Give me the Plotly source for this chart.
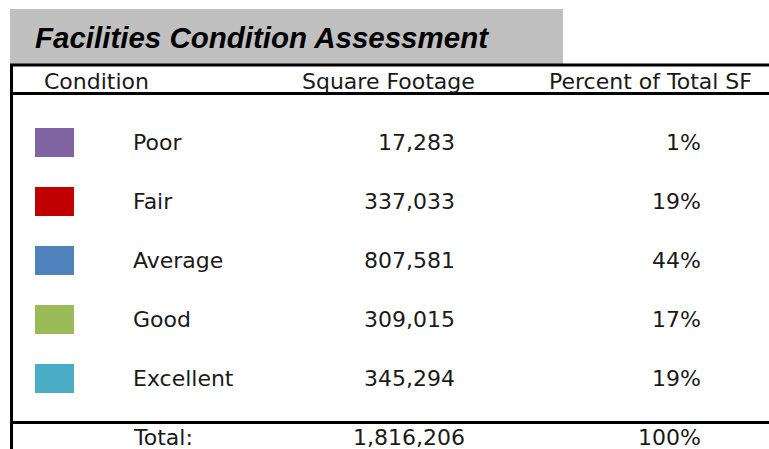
import plotly.graph_objects as go

# ---- data ----
title_text = "Facilities Condition Assessment"
headers = ["Condition", "Square Footage", "Percent of Total SF"]
conditions = ["Poor", "Fair", "Average", "Good", "Excellent"]
square_footage = [17283, 337033, 807581, 309015, 345294]
percent_total = [1, 19, 44, 17, 19]
swatch_colors = ["#8064A2", "#C00000", "#4F81BD", "#9BBB59", "#4BACC6"]
total_label = "Total:"
total_sf = 1816206
total_pct = 100

# ---- layout helpers (pixel geometry of the 769x449 page) ----
W, H = 769, 449
ROW0_PX, ROW_STEP = 142, 59


def py(p):
    return (p - ROW0_PX) / ROW_STEP


FONT = "DejaVu Sans"
FS = 22
TXT = "#1a1a1a"

fig = go.Figure()

# colour swatches as horizontal bars
fig.add_trace(go.Bar(
    orientation="h",
    y=list(range(len(conditions))),
    x=[39] * len(conditions),
    base=35,
    width=29 / ROW_STEP,
    marker=dict(color=swatch_colors, line=dict(width=0)),
    hoverinfo="skip",
    showlegend=False,
))


def txt(x, y, s, anchor, size=FS, family=FONT, color=TXT):
    return dict(x=x, y=y, text=s, xanchor=anchor, yanchor="middle", showarrow=False,
                font=dict(family=family, size=size, color=color))


ann = []
ann.append(txt(33, py(37), f"<b><i>{title_text}</i></b>", "left", size=29.5,
               family="Liberation Sans", color="#000000"))
ann.append(txt(42, py(81), headers[0], "left"))
ann.append(txt(388, py(81), headers[1], "center"))
ann.append(txt(650, py(81), headers[2], "center"))

for i, (c, sf, pc) in enumerate(zip(conditions, square_footage, percent_total)):
    ann.append(txt(131, i, c, "left"))
    ann.append(txt(457, i, f"{sf:,}", "right"))
    ann.append(txt(703, i, f"{pc}%", "right"))

ann.append(txt(131, py(437), total_label, "left"))
ann.append(txt(467, py(437), f"{total_sf:,}", "right"))
ann.append(txt(703, py(437), f"{total_pct}%", "right"))

shapes = [
    dict(type="rect", x0=10, x1=563, y0=py(9), y1=py(64), fillcolor="#C0C0C0",
         line=dict(width=0), layer="below"),
    dict(type="line", x0=10, x1=W + 5, y0=py(65), y1=py(65), line=dict(color="black", width=3)),
    dict(type="line", x0=10, x1=W + 5, y0=py(93.5), y1=py(93.5), line=dict(color="black", width=3)),
    dict(type="line", x0=10, x1=W + 5, y0=py(422.5), y1=py(422.5), line=dict(color="black", width=3)),
    dict(type="line", x0=11.5, x1=11.5, y0=py(64), y1=py(H + 5), line=dict(color="black", width=3)),
]

fig.update_layout(
    width=W, height=H,
    margin=dict(l=0, r=0, t=0, b=0),
    paper_bgcolor="white", plot_bgcolor="white",
    xaxis=dict(range=[0, W], visible=False, fixedrange=True),
    yaxis=dict(range=[py(H), py(0)], visible=False, fixedrange=True),
    annotations=ann,
    shapes=shapes,
    bargap=0,
)

fig.write_html(
    "out.html",
    config={"displayModeBar": False},
    post_script="document.body.style.margin='0';document.body.style.overflow='hidden';",
)
